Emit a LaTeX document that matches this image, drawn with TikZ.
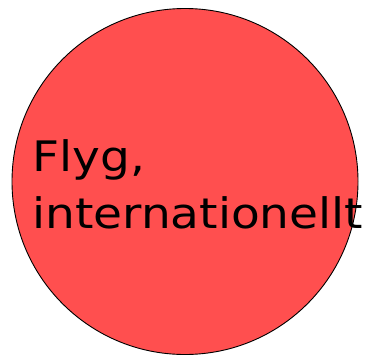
\documentclass[tikz,border=0pt]{standalone}
\usepackage{fontspec}
\setmainfont{DejaVu Sans}[FakeStretch=1.12]
\usepackage{tikz}
\usetikzlibrary{positioning}
\definecolor{zoneRed}{HTML}{FF4F4F}

\begin{document}
\begin{tikzpicture}[
    x=1pt, y=-1pt,
    zone/.style={draw, circle, fill=zoneRed, line width=0.9pt,
                 inner sep=0pt, minimum size=346pt},
    zonetext/.style={font=\fontsize{42}{57}\selectfont, align=left,
                     inner sep=0pt},
]
\useasboundingbox (0,0) rectangle (369,359);
% Zone with its label
\node[zone] (flyg) at (185,181.5) {};
\node[zonetext, anchor=base west] (flygtext) at (32,228)
    {Flyg,\\internationellt};
\end{tikzpicture}
\end{document}
